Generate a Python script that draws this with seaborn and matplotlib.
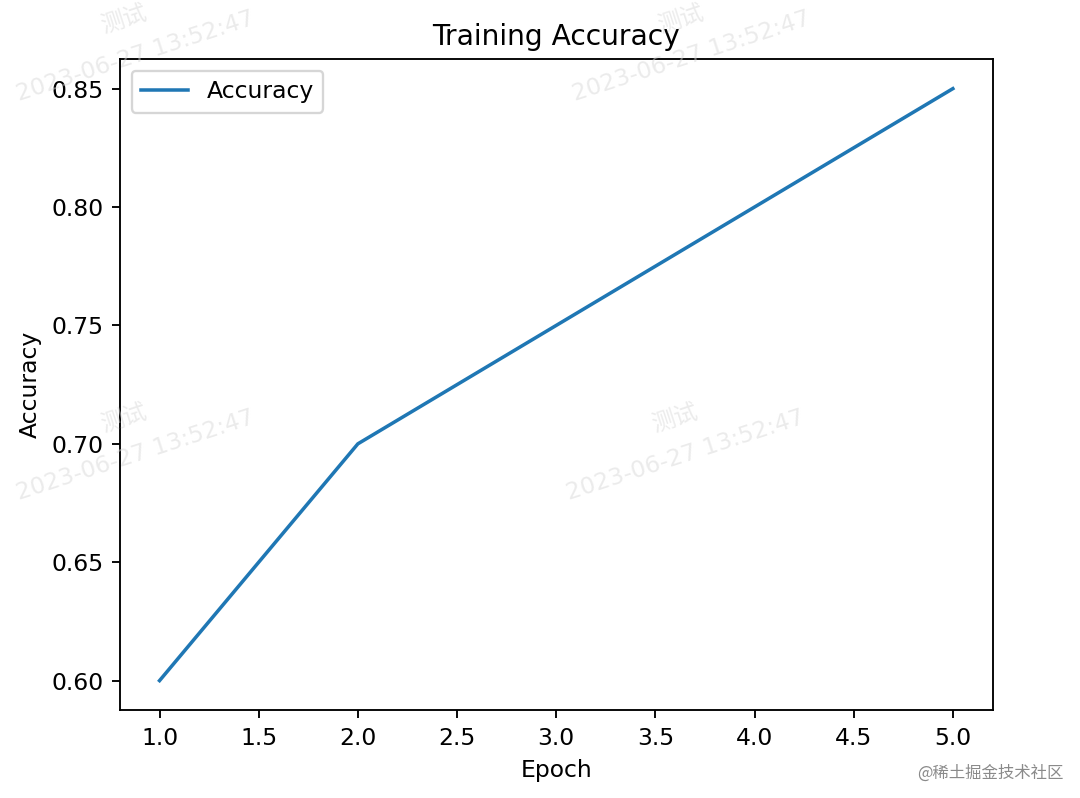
import pandas as pd
import matplotlib.pyplot as plt
import seaborn as sns

epochs = [1, 2, 3, 4, 5]
accuracy = [0.60, 0.70, 0.75, 0.80, 0.85]

plt.rcParams['font.family'] = ['DejaVu Sans', 'Noto Sans CJK SC']

df = pd.DataFrame({'Epoch': epochs, 'Accuracy': accuracy})

fig = plt.figure(figsize=(6.4, 4.729), dpi=168.75)
ax = fig.add_axes([0.111, 0.110, 0.808, 0.816])
sns.lineplot(data=df, x='Epoch', y='Accuracy', color='#1f77b4', label='Accuracy', ax=ax)
ax.set_title('Training Accuracy')
ax.set_xlabel('Epoch')
ax.set_ylabel('Accuracy')
ax.legend(loc='upper left')

# watermarks (kept inside the figure)
wm = dict(color='#d8d8d8', alpha=0.5, rotation=18, fontsize=10, ha='center', va='center',
          family=['DejaVu Sans', 'Noto Sans CJK SC'])
for x, y in [(0.635, 0.43), (0.125, 0.43), (0.64, 0.93), (0.125, 0.93)]:
    fig.text(x, y, '2023-06-27 13:52:47', **wm)
    fig.text(x - 0.01, y + 0.045, '测试', **wm)
fig.text(0.985, 0.02, '@稀土掘金技术社区', color='#8a8a8a', fontsize=7, ha='right', va='bottom',
         family=['Noto Sans CJK SC', 'DejaVu Sans'])

fig.savefig('out.png', dpi=168.75)
